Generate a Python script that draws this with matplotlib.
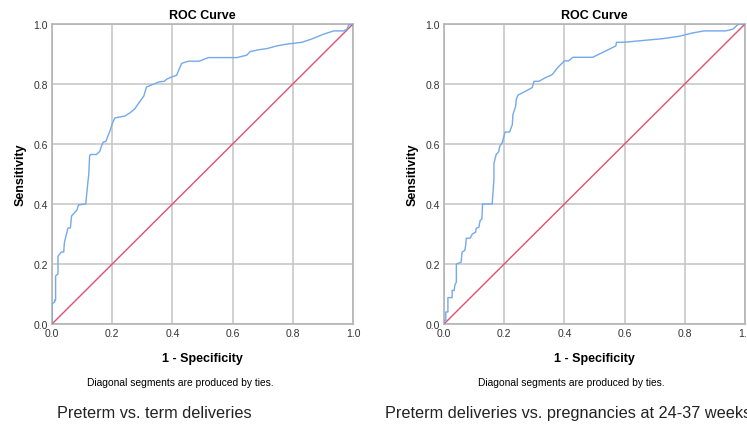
import matplotlib.pyplot as plt

# ROC points (1 - specificity, sensitivity)
fpr_term = [0, 0, .009, .009, .012, .012, .02, .02, .031, .039, .041, .048, .053, .061, .065,
            .083, .088, .112, .117, .12, .122, .125, .128, .148, .159, .164, .17, .179,
            .192, .201, .209, .242, .259, .275, .281, .305, .314, .336, .356, .373, .381,
            .394, .414, .42, .431, .453, .489, .519, .614, .647, .658, .686, .714, .747,
            .78, .83, .863, .902, .936, .969, .98, .986, 1]
tpr_term = [0, .068, .073, .08, .08, .16, .167, .226, .24, .24, .27, .30, .32, .32, .36,
            .38, .397, .40, .45, .48, .497, .56, .565, .565, .576, .592, .606, .609,
            .642, .67, .687, .693, .704, .717, .726, .76, .79, .799, .807, .809, .816,
            .822, .829, .844, .869, .876, .876, .888, .888, .896, .908, .914, .918, .927,
            .933, .939, .95, .966, .977, .977, .983, .997, 1]

fpr_2437 = [0, 0, .006, .006, .013, .013, .027, .027, .034, .036, .041, .041, .057, .06,
            .069, .072, .074, .087, .094, .105, .107, .116, .12, .126, .128, .16, .166,
            .166, .173, .182, .185, .193, .203, .218, .227, .229, .238, .24, .246, .273,
            .293, .299, .315, .337, .359, .378, .4, .414, .428, .494, .549, .571, .573,
            .599, .649, .726, .781, .825, .864, .936, .96, .975, .982, 1]
tpr_2437 = [0, .012, .012, .04, .04, .088, .088, .112, .112, .129, .14, .2, .206, .24,
            .245, .262, .286, .286, .30, .306, .319, .323, .345, .35, .40, .40, .483,
            .536, .564, .575, .592, .603, .64, .64, .665, .698, .726, .749, .763, .777,
            .788, .809, .809, .821, .831, .855, .877, .877, .889, .889, .916, .927, .939,
            .939, .944, .951, .959, .97, .977, .977, .983, .997, 1, 1]

ticks = [0.0, 0.2, 0.4, 0.6, 0.8, 1.0]
captions = ["Preterm vs. term deliveries", "Preterm deliveries vs. pregnancies at 24-37 weeks"]

plt.rcParams['font.family'] = ['Liberation Sans', 'DejaVu Sans']

W, H = 747, 427
fig = plt.figure(figsize=(W / 100, H / 100), dpi=100)

panels = [(52, fpr_term, tpr_term), (444, fpr_2437, tpr_2437)]
for (x0, fpr, tpr) in panels:
    ax = fig.add_axes([x0 / W, (H - 325) / H, 301 / W, 300 / H])
    ax.plot([0, 1], [0, 1], color='#e0506e', lw=1.0, zorder=3)
    ax.plot(fpr, tpr, color='#74a9ec', lw=1.0, zorder=4)
    ax.set_xlim(0, 1)
    ax.set_ylim(0, 1)
    ax.set_xticks(ticks)
    ax.set_yticks(ticks)
    ax.set_xticklabels([f"{t:.1f}" for t in ticks])
    ax.set_yticklabels([f"{t:.1f}" for t in ticks])
    ax.grid(True, color='#c8c8c8', lw=1.2)
    ax.set_axisbelow(True)
    for s in ax.spines.values():
        s.set_color('#b4b4b4')
        s.set_linewidth(1.2)
    ax.tick_params(length=0, labelsize=7.5, colors='#333333', pad=3)
    ax.set_title("ROC Curve", fontsize=9, fontweight='bold', pad=4)
    ax.set_xlabel("1 - Specificity", fontsize=9, fontweight='bold', labelpad=10)
    ax.set_ylabel("Sensitivity", fontsize=9, fontweight='bold', labelpad=5)

fig.text(180 / W, 1 - 383 / H, "Diagonal segments are produced by ties.", fontsize=7.4,
         ha='center', va='center')
fig.text(571 / W, 1 - 383 / H, "Diagonal segments are produced by ties.", fontsize=7.4,
         ha='center', va='center')
fig.text(57 / W, 1 - 414 / H, captions[0], fontsize=11.7, ha='left', va='center', color='#222222')
fig.text(385 / W, 1 - 414 / H, captions[1], fontsize=11.7, ha='left', va='center', color='#222222')

fig.savefig("out.png", dpi=100)
